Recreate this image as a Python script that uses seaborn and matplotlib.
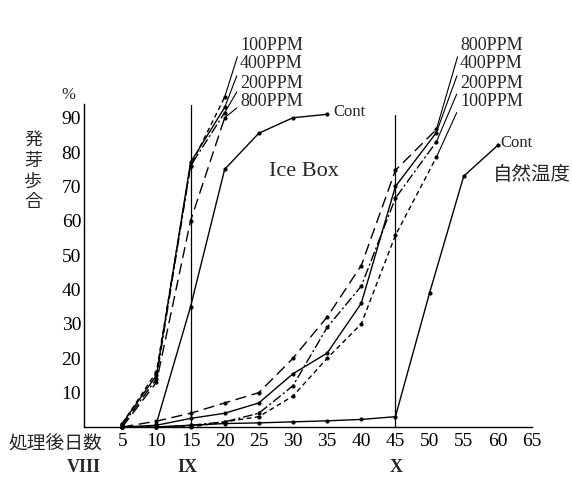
import matplotlib
matplotlib.use("Agg")
import matplotlib.pyplot as plt
import seaborn as sns
import pandas as pd

# ---------------- data ----------------
ice_days = [5, 10, 15, 20]
ice_100 = [1, 16, 76, 96]
ice_400 = [1, 15, 77, 93]
ice_200 = [0.5, 14, 76, 91.5]
ice_800 = [0, 13, 60, 90]
ice_cont_days = [10, 15, 20, 25, 30, 35]
ice_cont = [1, 35, 75, 85.5, 90, 91]

nat_days = [5, 10, 15, 20, 25, 30, 35, 40, 45, 51]
nat_800 = [0, 1.7, 4, 7, 10, 20, 32, 47, 74.7, 86.6]
nat_400 = [0, 0.5, 2.5, 4, 7, 15.5, 21.5, 36, 70, 85.7]
nat_200 = [0, 0, 0.5, 1.5, 4, 12, 29, 41, 66.6, 83]
nat_100 = [0, 0, 0, 1.5, 3, 9, 20, 30, 55.8, 78.5]
nat_cont_days = [10, 15, 20, 25, 30, 35, 40, 45, 50, 55, 60]
nat_cont = [0, 0.5, 1, 1.2, 1.5, 1.8, 2.2, 3, 39, 73, 82]

x_ticks = [5, 10, 15, 20, 25, 30, 35, 40, 45, 50, 55, 60, 65]
y_ticks = [10, 20, 30, 40, 50, 60, 70, 80, 90]
month_labels = ["VIII", "IX", "X"]
ppm_labels = ["100PPM", "400PPM", "200PPM", "800PPM"]

# ---------------- style ----------------
sns.set_style("white")
plt.rcParams['font.family'] = ['Liberation Serif', 'Noto Sans CJK JP']
JP = ['Noto Sans CJK JP', 'DejaVu Sans']
SERIF = ['Liberation Serif', 'DejaVu Serif']

W, H = 572, 480
fig = plt.figure(figsize=(W / 100, H / 100), dpi=100)
ax = fig.add_axes([84 / W, 1 - 427 / H, (532 - 84) / W, (427 - 104) / H])

def px(x, y):
    return (x / W, 1 - y / H)

styles = {
    "100": (3.5, 2.5),
    "400": None,
    "200": (7, 2, 1.5, 2),
    "800": (8, 4),
}

def draw(days, vals, style):
    df = pd.DataFrame({"day": days, "val": vals})
    sns.lineplot(data=df, x="day", y="val", ax=ax, color="black", lw=1.0,
                 marker="o", markersize=3, markeredgewidth=0)
    line = ax.lines[-1]
    d = styles[style]
    if d:
        line.set_dashes(d)
    line.set_clip_on(False)
    return line

# Ice box group
draw(ice_days, ice_100, "100")
draw(ice_days, ice_400, "400")
draw(ice_days, ice_200, "200")
draw(ice_days, ice_800, "800")
draw(ice_cont_days, ice_cont, "400")
# natural temperature group
draw(nat_days, nat_800, "800")
draw(nat_days, nat_400, "400")
draw(nat_days, nat_200, "200")
draw(nat_days, nat_100, "100")
draw(nat_cont_days, nat_cont, "400")

# vertical reference lines
ax.plot([15, 15], [0, 93.6], color="black", lw=0.9, clip_on=False)
ax.plot([45, 45], [0, 90.7], color="black", lw=0.9, clip_on=False)

ax.set_xlim(-0.6, 65)
ax.set_ylim(0, 94)
ax.set_xticks(x_ticks)
ax.set_xticklabels([str(v) for v in x_ticks])
ax.set_yticks(y_ticks)
ax.set_yticklabels([str(v) for v in y_ticks])
ax.set_xlabel("")
ax.set_ylabel("")
for s in ["top", "right"]:
    ax.spines[s].set_visible(False)
for s in ["left", "bottom"]:
    ax.spines[s].set_color("black")
    ax.spines[s].set_linewidth(1.0)
ax.tick_params(axis="both", direction="in", length=6, width=1.0, colors="black",
               labelsize=14)
ax.tick_params(axis="x", pad=4)
ax.tick_params(axis="y", pad=2)
for t in ax.get_xticklabels() + ax.get_yticklabels():
    t.set_family(SERIF)

# texts
fig.text(*px(68, 95), "%", fontsize=12, family=SERIF, ha="center", va="center")
fig.text(*px(33, 171), "発\n芽\n歩\n合", fontsize=13, family=JP, ha="center",
         va="center", linespacing=1.2)
fig.text(*px(55, 444), "処理後日数", fontsize=13.5, family=JP, ha="center", va="center")
for lab, xx in zip(month_labels, [84, 187, 396]):
    fig.text(*px(xx, 467), lab, fontsize=13, family=SERIF, ha="center",
             va="center", fontweight="bold")
fig.text(*px(304, 172), "Ice Box", fontsize=16, family=SERIF, ha="center", va="center")
fig.text(*px(532, 175), "自然温度", fontsize=14, family=JP, ha="center", va="center")
fig.text(*px(333, 112), "Cont", fontsize=12, family=SERIF, ha="left", va="center")
fig.text(*px(500, 143), "Cont", fontsize=12, family=SERIF, ha="left", va="center")

# PPM labels with leader lines
left_ends = [(ice_days[-1], ice_100[-1]), (ice_days[-1], ice_400[-1]),
             (ice_days[-1], ice_200[-1]), (ice_days[-1], ice_800[-1])]
for i, (lab, xy) in enumerate(zip(ppm_labels, left_ends)):
    ty = 45 + i * 19
    ax.annotate(lab, xy=xy, xytext=px(240, ty), textcoords="figure fraction",
                fontsize=13, family=SERIF, ha="left", va="center",
                annotation_clip=False,
                arrowprops=dict(arrowstyle="-", lw=0.8, color="black",
                                shrinkA=0, shrinkB=0, relpos=(0, 0.3)))
right_labels = ["800PPM", "400PPM", "200PPM", "100PPM"]
right_ends = [(nat_days[-1], nat_800[-1]), (nat_days[-1], nat_400[-1]),
              (nat_days[-1], nat_200[-1]), (nat_days[-1], nat_100[-1])]
for i, (lab, xy) in enumerate(zip(right_labels, right_ends)):
    ty = 45 + i * 19
    ax.annotate(lab, xy=xy, xytext=px(460, ty), textcoords="figure fraction",
                fontsize=13, family=SERIF, ha="left", va="center",
                annotation_clip=False,
                arrowprops=dict(arrowstyle="-", lw=0.8, color="black",
                                shrinkA=0, shrinkB=0, relpos=(0, 0.3)))

fig.savefig("out.png", dpi=100, facecolor="white")
